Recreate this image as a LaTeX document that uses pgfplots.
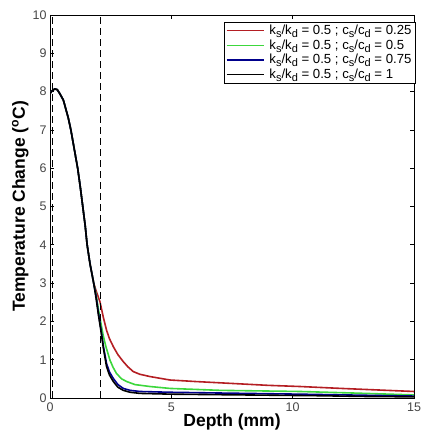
\documentclass[border=0pt]{standalone}
\usepackage{fontspec}
\setmainfont{Liberation Sans}
\usepackage{pgfplots}
\pgfplotsset{compat=1.18}
\definecolor{cred}{RGB}{180,30,35}
\definecolor{cgreen}{RGB}{60,215,60}
\definecolor{cblue}{RGB}{0,0,140}
\newcommand\sub[1]{\raisebox{-0.4ex}{\fontsize{11}{12}\selectfont #1}}
\newcommand\ent[1]{\hspace*{3pt}k\sub{s}/k\sub{d} = 0.5 ; c\sub{s}/c\sub{d} = #1}
\begin{document}
\begin{tikzpicture}
\begin{axis}[
  scale only axis, width=364pt, height=383pt,
  xmin=0, xmax=15, ymin=0, ymax=10,
  xtick={0,5,10,15}, ytick={0,1,...,10},
  tick align=inside, tick pos=both, major tick length=4pt,
  tick style={black, line width=0.6pt},
  axis line style={line width=0.8pt},
  /pgf/number format/assume math mode=true,
  ticklabel style={font=\fontsize{12.5}{14}\selectfont, color=black!72},
  xticklabel style={yshift=-1pt},
  xlabel={\textbf{Depth (mm)}}, ylabel={\textbf{Temperature Change (\textsuperscript{o}C)}},
  label style={font=\fontsize{17.5}{19}\selectfont},
  xlabel style={yshift=4pt}, ylabel style={yshift=-3pt},
  legend style={at={(rel axis cs:1.005,0.982)}, anchor=north east, font=\fontsize{13.2}{15}\selectfont,
    draw=black, line width=0.6pt, inner xsep=2pt, inner ysep=1pt, row sep=-0.5pt, cells={anchor=west}},
  legend image code/.code={\draw[#1, line width=1.5pt] (0pt,0pt) -- (37pt,0pt);},
  every axis plot/.append style={line width=1.6pt},
]
\addplot[cred] coordinates {(0,7.95)(0.1,8.03)(0.2,8.07)(0.3,8.05)(0.4,7.95)(0.55,7.78)(0.65,7.55)(0.75,7.32)(0.86,7.0)(1.0,6.5)(1.14,6.0)(1.25,5.5)(1.35,5.0)(1.45,4.5)(1.53,4.0)(1.65,3.5)(1.8,3.0)(1.9,2.8)
 (2.06,2.51)(2.2,2.1)(2.33,1.77)(2.45,1.55)(2.61,1.34)(2.8,1.13)(3.02,0.95)(3.2,0.82)(3.43,0.69)(3.7,0.62)(4.12,0.56)(4.94,0.47)(6,0.43)(7.5,0.38)(9,0.33)(10.3,0.30)(12,0.25)(13.5,0.21)(15,0.17)};
\addlegendentry{\ent{0.25}}
\addplot[cgreen] coordinates {(0,7.95)(0.1,8.03)(0.2,8.07)(0.3,8.05)(0.4,7.95)(0.55,7.78)(0.65,7.55)(0.75,7.32)(0.86,7.0)(1.0,6.5)(1.14,6.0)(1.25,5.5)(1.35,5.0)(1.45,4.5)(1.53,4.0)(1.65,3.5)(1.8,3.0)(1.9,2.7)
 (2.0,2.3)(2.1,1.95)(2.19,1.64)(2.3,1.35)(2.47,0.99)(2.6,0.8)(2.74,0.64)(2.95,0.5)(3.16,0.43)(3.5,0.35)(4.12,0.30)(4.94,0.25)(7,0.2)(10.3,0.17)(12.5,0.13)(15,0.08)};
\addlegendentry{\ent{0.5}}
\addplot[cblue] coordinates {(0,7.95)(0.1,8.03)(0.2,8.07)(0.3,8.05)(0.4,7.95)(0.55,7.78)(0.65,7.55)(0.75,7.32)(0.86,7.0)(1.0,6.5)(1.14,6.0)(1.25,5.5)(1.35,5.0)(1.45,4.5)(1.53,4.0)(1.65,3.5)(1.8,3.0)(1.9,2.65)
 (2.0,2.2)(2.1,1.8)(2.2,1.35)(2.33,0.9)(2.45,0.68)(2.61,0.51)(2.8,0.35)(3.02,0.25)(3.3,0.2)(3.71,0.17)(4.94,0.15)(7,0.13)(10.3,0.1)(15,0.05)};
\addlegendentry{\ent{0.75}}
\addplot[black] coordinates {(0,7.95)(0.1,8.03)(0.2,8.07)(0.3,8.05)(0.4,7.95)(0.55,7.78)(0.65,7.55)(0.75,7.32)(0.86,7.0)(1.0,6.5)(1.14,6.0)(1.25,5.5)(1.35,5.0)(1.45,4.5)(1.53,4.0)(1.65,3.5)(1.8,3.0)(1.9,2.6)
 (2.0,2.15)(2.1,1.75)(2.2,1.3)(2.33,0.82)(2.45,0.6)(2.61,0.43)(2.8,0.28)(3.02,0.2)(3.3,0.15)(3.71,0.12)(5,0.1)(8,0.08)(11,0.06)(13,0.04)(15,0.03)};
\addlegendentry{\ent{1}}
\addplot[black, line width=0.6pt, dash pattern=on 7pt off 4pt, forget plot] coordinates {(0.1,0)(0.1,10)};
\addplot[black, line width=0.6pt, dash pattern=on 7pt off 4pt, forget plot] coordinates {(2.07,0)(2.07,10)};
\end{axis}
\path (current axis.south west) ++(-50pt,-43pt) coordinate (bl);
\path (current axis.north east) ++(11pt,15pt) coordinate (tr);
\useasboundingbox (bl) rectangle (tr);
\end{tikzpicture}
\end{document}
